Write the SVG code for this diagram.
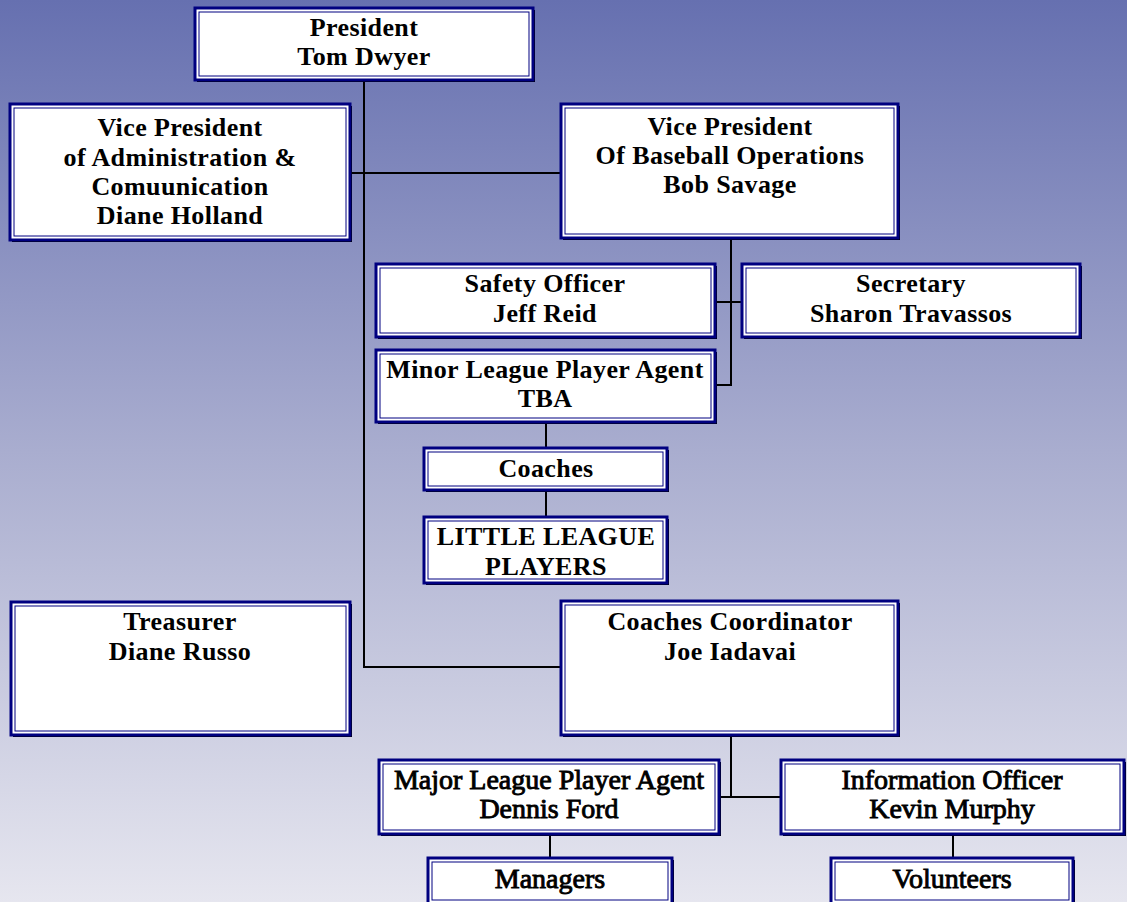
<svg xmlns="http://www.w3.org/2000/svg" width="1127" height="902" viewBox="0 0 1127 902">
<defs>
<linearGradient id="bg" x1="0" y1="0" x2="0" y2="1">
<stop offset="0" stop-color="#6670b0"/>
<stop offset="0.5" stop-color="#a9adcf"/>
<stop offset="1" stop-color="#e6e6ef"/>
</linearGradient>
</defs>
<style>
.sh{fill:#000000}
.bx{fill:#ffffff;stroke:#000080;stroke-width:3}
.in{fill:none;stroke:#000080;stroke-width:1}
.t{font-family:"Liberation Serif",serif;font-weight:bold;font-size:26px;letter-spacing:0.4px;fill:#000000;text-anchor:middle}
.tc{font-family:"Liberation Serif",serif;font-weight:normal;font-size:28px;fill:#000000;stroke:#000000;stroke-width:0.9;text-anchor:middle}
.ln{stroke:#000000;stroke-width:2;fill:none}
</style>
<rect x="0" y="0" width="1127" height="902" fill="url(#bg)"/>
<g id="connectors">
<path class="ln" d="M364 80 V667 H562"/>
<path class="ln" d="M352 173 H562"/>
<path class="ln" d="M731 240 V385 H715"/>
<path class="ln" d="M715 302 H742"/>
<path class="ln" d="M546 422 V448"/>
<path class="ln" d="M546 490 V517"/>
<path class="ln" d="M731 736 V797"/>
<path class="ln" d="M719 797 H781"/>
<path class="ln" d="M550 834 V858"/>
<path class="ln" d="M953 834 V858"/>
</g>
<g id="president">
<rect class="sh" x="197" y="10" width="338" height="72"/>
<rect class="bx" x="195" y="8" width="338" height="72"/>
<rect class="in" x="199" y="12" width="330" height="64"/>
<text class="t" x="364" y="36">President</text>
<text class="t" x="364" y="65">Tom Dwyer</text>
</g>
<g id="vp-admin">
<rect class="sh" x="12" y="106" width="340" height="136"/>
<rect class="bx" x="10" y="104" width="340" height="136"/>
<rect class="in" x="14" y="108" width="332" height="128"/>
<text class="t" x="180" y="136">Vice President</text>
<text class="t" x="180" y="166">of Administration &amp;</text>
<text class="t" x="180" y="195">Comuunication</text>
<text class="t" x="180" y="224">Diane Holland</text>
</g>
<g id="vp-baseball">
<rect class="sh" x="563" y="106" width="337" height="134"/>
<rect class="bx" x="561" y="104" width="337" height="134"/>
<rect class="in" x="565" y="108" width="329" height="126"/>
<text class="t" x="730" y="135">Vice President</text>
<text class="t" x="730" y="164">Of Baseball Operations</text>
<text class="t" x="730" y="193">Bob Savage</text>
</g>
<g id="safety">
<rect class="sh" x="378" y="266" width="339" height="73"/>
<rect class="bx" x="376" y="264" width="339" height="73"/>
<rect class="in" x="380" y="268" width="331" height="65"/>
<text class="t" x="545" y="292">Safety Officer</text>
<text class="t" x="545" y="322">Jeff Reid</text>
</g>
<g id="secretary">
<rect class="sh" x="744" y="266" width="338" height="73"/>
<rect class="bx" x="742" y="264" width="338" height="73"/>
<rect class="in" x="746" y="268" width="330" height="65"/>
<text class="t" x="911" y="292">Secretary</text>
<text class="t" x="911" y="322">Sharon Travassos</text>
</g>
<g id="minor-league">
<rect class="sh" x="378" y="352" width="339" height="72"/>
<rect class="bx" x="376" y="350" width="339" height="72"/>
<rect class="in" x="380" y="354" width="331" height="64"/>
<text class="t" x="545" y="378">Minor League Player Agent</text>
<text class="t" x="545" y="407">TBA</text>
</g>
<g id="coaches">
<rect class="sh" x="426" y="450" width="243" height="42"/>
<rect class="bx" x="424" y="448" width="243" height="42"/>
<rect class="in" x="428" y="452" width="235" height="34"/>
<text class="t" x="546" y="477">Coaches</text>
</g>
<g id="little-league">
<rect class="sh" x="426" y="519" width="243" height="66"/>
<rect class="bx" x="424" y="517" width="243" height="66"/>
<rect class="in" x="428" y="521" width="235" height="58"/>
<text class="t" x="546" y="545">LITTLE LEAGUE</text>
<text class="t" x="546" y="575">PLAYERS</text>
</g>
<g id="treasurer">
<rect class="sh" x="13" y="604" width="339" height="133"/>
<rect class="bx" x="11" y="602" width="339" height="133"/>
<rect class="in" x="15" y="606" width="331" height="125"/>
<text class="t" x="180" y="630">Treasurer</text>
<text class="t" x="180" y="660">Diane Russo</text>
</g>
<g id="coaches-coordinator">
<rect class="sh" x="563" y="603" width="337" height="134"/>
<rect class="bx" x="561" y="601" width="337" height="134"/>
<rect class="in" x="565" y="605" width="329" height="126"/>
<text class="t" x="730" y="630">Coaches Coordinator</text>
<text class="t" x="730" y="660">Joe Iadavai</text>
</g>
<g id="major-league">
<rect class="sh" x="381" y="762" width="340" height="74"/>
<rect class="bx" x="379" y="760" width="340" height="74"/>
<rect class="in" x="383" y="764" width="332" height="66"/>
<text class="tc" x="549" y="789">Major League Player Agent</text>
<text class="tc" x="549" y="818">Dennis Ford</text>
</g>
<g id="info-officer">
<rect class="sh" x="783" y="762" width="343" height="74"/>
<rect class="bx" x="781" y="760" width="343" height="74"/>
<rect class="in" x="785" y="764" width="335" height="66"/>
<text class="tc" x="952" y="789">Information Officer</text>
<text class="tc" x="952" y="818">Kevin Murphy</text>
</g>
<g id="managers">
<rect class="sh" x="430" y="860" width="244" height="46"/>
<rect class="bx" x="428" y="858" width="244" height="46"/>
<rect class="in" x="432" y="862" width="236" height="38"/>
<text class="tc" x="550" y="888">Managers</text>
</g>
<g id="volunteers">
<rect class="sh" x="833" y="860" width="242" height="46"/>
<rect class="bx" x="831" y="858" width="242" height="46"/>
<rect class="in" x="835" y="862" width="234" height="38"/>
<text class="tc" x="952" y="888">Volunteers</text>
</g>
</svg>
